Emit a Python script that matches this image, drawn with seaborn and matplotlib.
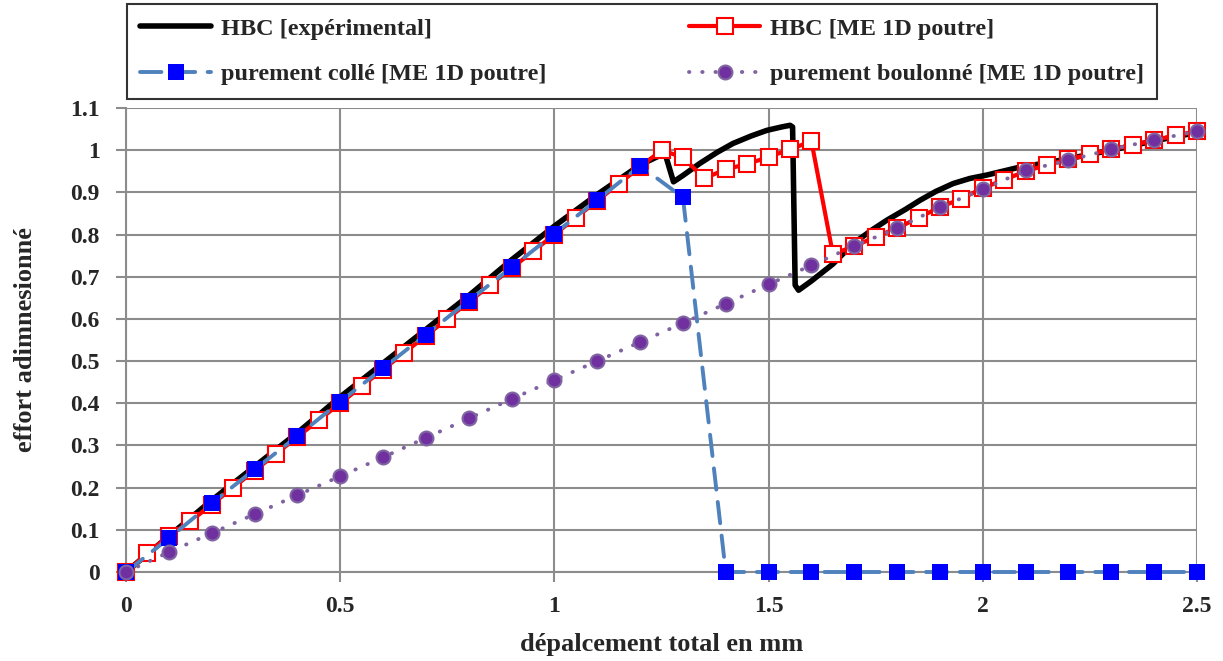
import matplotlib
matplotlib.use("Agg")
import matplotlib.pyplot as plt
import seaborn as sns
import pandas as pd

# ---- data ----
exp_x = [0.0, 0.1, 0.2, 0.3, 0.4, 0.5, 0.6, 0.7, 0.8, 0.9, 1.0, 1.1, 1.2, 1.258, 1.278, 1.30, 1.34,
         1.38, 1.417, 1.46, 1.496, 1.53, 1.55, 1.556, 1.562, 1.57, 1.6, 1.65, 1.698, 1.74, 1.776, 1.82,
         1.853, 1.89, 1.931, 1.97, 2.009, 2.05, 2.087, 2.15, 2.2, 2.3, 2.4, 2.5]
exp_y = [0.0, 0.085, 0.17, 0.25, 0.33, 0.415, 0.495, 0.575, 0.655, 0.74, 0.82, 0.895, 0.965, 0.993,
         0.925, 0.94, 0.969, 0.995, 1.016, 1.034, 1.047, 1.055, 1.059, 1.055, 0.68, 0.668, 0.69, 0.73,
         0.779, 0.81, 0.834, 0.86, 0.881, 0.902, 0.921, 0.933, 0.941, 0.951, 0.960, 0.97, 0.98, 1.0,
         1.022, 1.042]

hbc_x = [0.0, 0.05, 0.1, 0.15, 0.2, 0.25, 0.3, 0.35, 0.4, 0.45, 0.5, 0.55, 0.6, 0.65, 0.7, 0.75, 0.8, 0.85,
         0.9, 0.95, 1.0, 1.05, 1.1, 1.15, 1.2, 1.25, 1.3, 1.35, 1.4, 1.45, 1.5, 1.55, 1.6, 1.65, 1.7, 1.75,
         1.8, 1.85, 1.9, 1.95, 2.0, 2.05, 2.1, 2.15, 2.2, 2.25, 2.3, 2.35, 2.4, 2.45, 2.5]
hbc_y = [0.0, 0.045, 0.085, 0.12, 0.16, 0.2, 0.24, 0.28, 0.32, 0.36, 0.4, 0.44, 0.48, 0.52, 0.56, 0.6,
         0.64, 0.68, 0.72, 0.76, 0.80, 0.84, 0.88, 0.92, 0.96, 1.0, 0.983, 0.933, 0.955, 0.967, 0.984, 1.002,
         1.021, 0.754, 0.772, 0.795, 0.815, 0.84, 0.865, 0.885, 0.91, 0.93, 0.95, 0.965, 0.978, 0.99, 1.002,
         1.012, 1.024, 1.035, 1.045]

colle_x = [0.0, 0.1, 0.2, 0.3, 0.4, 0.5, 0.6, 0.7, 0.8, 0.9, 1.0, 1.1, 1.2, 1.3, 1.4, 1.5, 1.6, 1.7,
           1.8, 1.9, 2.0, 2.1, 2.2, 2.3, 2.4, 2.5]
colle_y = [0.0, 0.08, 0.163, 0.243, 0.322, 0.404, 0.483, 0.563, 0.643, 0.722, 0.802, 0.882, 0.963, 0.888,
           0.0, 0.0, 0.0, 0.0, 0.0, 0.0, 0.0, 0.0, 0.0, 0.0, 0.0, 0.0]

boul_x = [0.0, 0.1, 0.2, 0.3, 0.4, 0.5, 0.6, 0.7, 0.8, 0.9, 1.0, 1.1, 1.2, 1.3, 1.4, 1.5, 1.6, 1.7,
          1.8, 1.9, 2.0, 2.1, 2.2, 2.3, 2.4, 2.5]
boul_y = [0.0, 0.047, 0.092, 0.137, 0.182, 0.227, 0.272, 0.318, 0.364, 0.41, 0.455, 0.5, 0.545, 0.59,
          0.636, 0.682, 0.727, 0.773, 0.815, 0.865, 0.907, 0.952, 0.976, 1.002, 1.024, 1.045]

labels = ["HBC [expérimental]", "HBC [ME 1D poutre]",
          "purement collé [ME 1D poutre]", "purement boulonné [ME 1D poutre]"]

x_ticks = [0, 0.5, 1, 1.5, 2, 2.5]
y_ticks = [0, 0.1, 0.2, 0.3, 0.4, 0.5, 0.6, 0.7, 0.8, 0.9, 1.0, 1.1]

# ---- style ----
sns.set_theme(style="white")
plt.rcParams['font.family'] = ['Liberation Serif', 'DejaVu Serif']
plt.rcParams['font.weight'] = 'bold'

W, H = 1223, 661
fig = plt.figure(figsize=(W / 100, H / 100), dpi=100)
ax = fig.add_axes([126 / W, 1 - 572 / H, (1197 - 126) / W, (572 - 108) / H])

grid_c = "#8c8c8c"

df_exp = pd.DataFrame({"x": exp_x, "y": exp_y})
df_hbc = pd.DataFrame({"x": hbc_x, "y": hbc_y})
df_col = pd.DataFrame({"x": colle_x, "y": colle_y})
df_bou = pd.DataFrame({"x": boul_x, "y": boul_y})

sns.lineplot(data=df_exp, x="x", y="y", ax=ax, sort=False, estimator=None, color="black",
             lw=4.0, label=labels[0], solid_joinstyle="round", zorder=3, clip_on=False)
sns.lineplot(data=df_hbc, x="x", y="y", ax=ax, sort=False, estimator=None, color="#ff0000",
             lw=3.0, marker="s", markersize=11.5, markerfacecolor="white", markeredgecolor="#ff0000",
             markeredgewidth=1.5, label=labels[1], zorder=4, clip_on=False)
sns.lineplot(data=df_col, x="x", y="y", ax=ax, sort=False, estimator=None, color="#4f81bd",
             lw=2.8, linestyle=(0, (5.5, 3.2)), dash_capstyle="round", marker="s", markersize=11,
             markerfacecolor="#0000ff", markeredgecolor="#0000ff", markeredgewidth=0,
             label=labels[2], zorder=5, clip_on=False)
sns.lineplot(data=df_bou, x="x", y="y", ax=ax, sort=False, estimator=None, color="#8064a2",
             lw=2.8, linestyle=(0, (0.1, 3.3)), dash_capstyle="round", marker="o", markersize=10,
             markerfacecolor="#7030a0", markeredgecolor="#8064a2", markeredgewidth=1.5,
             label=labels[3], zorder=6, clip_on=False)

ax.set_xlim(0, 2.5)
ax.set_ylim(0, 1.1)
ax.set_xticks(x_ticks)
ax.set_yticks(y_ticks)
ax.set_xticklabels([f"{t:g}" for t in x_ticks])
ax.set_yticklabels([f"{t:g}" for t in y_ticks])
ax.grid(True, color=grid_c, lw=1.5, zorder=0)
ax.set_axisbelow(True)
for s in ["top", "right"]:
    ax.spines[s].set_visible(False)
for s in ["left", "bottom"]:
    ax.spines[s].set_color(grid_c)
    ax.spines[s].set_linewidth(1.5)
ax.tick_params(axis="both", which="both", direction="out", length=7, width=1.5, color=grid_c,
               labelsize=17, left=True, bottom=True)
ax.tick_params(axis="y", pad=12)
ax.tick_params(axis="x", pad=10)
ax.set_xlabel("dépalcement total en mm", fontsize=19, fontweight="bold", labelpad=12)
ax.set_ylabel("effort adimnesionné", fontsize=19, fontweight="bold", labelpad=24)

h, l = ax.get_legend_handles_labels()
order = [0, 2, 1, 3]
leg = fig.legend([h[i] for i in order], [l[i] for i in order], ncol=2,
                 loc="upper left", bbox_to_anchor=(127 / W, 1 - 5 / H, (1157 - 127) / W, 0.001),
                 mode="expand", borderaxespad=0, frameon=True, fancybox=False, edgecolor="black",
                 fontsize=17.5, handlelength=2.9, borderpad=0.55, labelspacing=0.97,
                 handletextpad=0.4)
leg.get_frame().set_linewidth(1.5)
if ax.get_legend() is not None:
    ax.get_legend().remove()

fig.savefig("out.png", dpi=100)
